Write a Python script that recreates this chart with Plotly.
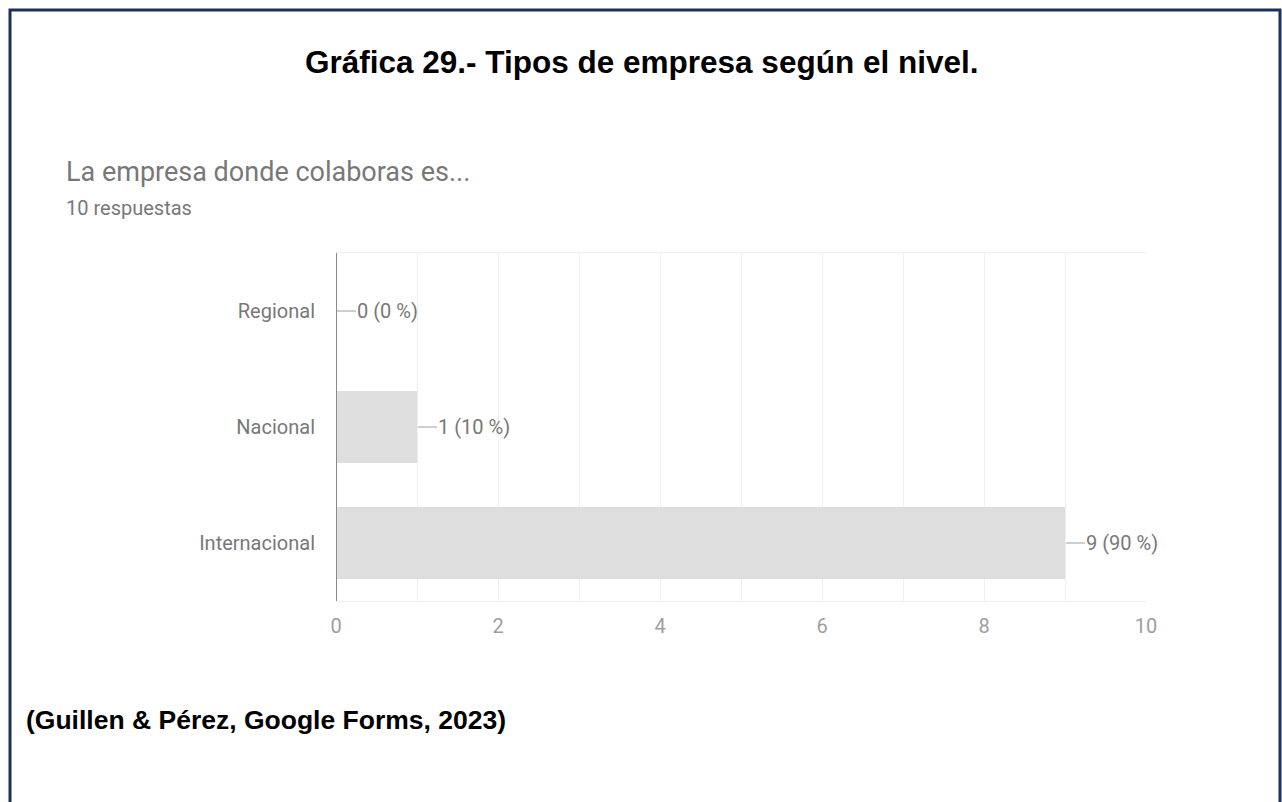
import plotly.graph_objects as go

# Survey answers: "La empresa donde colaboras es..."
categorias = ["Regional", "Nacional", "Internacional"]
respuestas = [0, 1, 9]
total_respuestas = 10
ticks_x = [0, 2, 4, 6, 8, 10]

W, H = 1282, 802
L, R, T, B = 336, 136, 253, 201
PW, PH = W - L - R, H - T - B


def px(x):
    """Convert a page x pixel to paper coordinates."""
    return (x - L) / PW


def py(y):
    """Convert a page y pixel (from top) to paper coordinates."""
    return 1 - (y - T) / PH


GRAY_TXT = "#787878"
GRAY_TICK = "#9e9e9e"
GRID = "#efefef"
NAVY = "#1d3159"

fig = go.Figure(
    go.Bar(
        x=respuestas,
        y=categorias,
        orientation="h",
        width=0.62,
        marker=dict(color="#dedede", line=dict(width=0)),
        hoverinfo="skip",
    )
)

shapes = []
annotations = []

# Value labels with a short leader line
for cat, v in zip(categorias, respuestas):
    pct = round(100 * v / total_respuestas)
    shapes.append(dict(
        type="line", xref="x", yref="y", xsizemode="pixel", xanchor=v,
        x0=1, x1=20, y0=cat, y1=cat,
        line=dict(color="#9e9e9e", width=1), layer="above",
    ))
    annotations.append(dict(
        x=v, y=cat, xref="x", yref="y", text=f"{v} ({pct} %)",
        showarrow=False, xanchor="left", yanchor="middle", xshift=19,
        font=dict(family="Roboto", size=20, color=GRAY_TXT),
    ))

# Axis line at zero
shapes.append(dict(
    type="line", xref="x", yref="paper", x0=0, x1=0, y0=0, y1=1,
    line=dict(color="#8a8a8a", width=2), layer="above",
))

# Frame around the page (top, left, right)
shapes.append(dict(
    type="path", xref="paper", yref="paper",
    path=f"M {px(10)} {py(830)} L {px(10)} {py(10)} L {px(1280)} {py(10)} L {px(1280)} {py(830)}",
    line=dict(color=NAVY, width=3),
))

annotations += [
    dict(
        x=px(641), y=py(62), xref="paper", yref="paper",
        text="<b>Gráfica 29.- Tipos de empresa según el nivel.</b>",
        showarrow=False, xanchor="center", yanchor="middle",
        font=dict(family="Liberation Sans, Arial", size=31.5, color="#000000"),
    ),
    dict(
        x=px(64), y=py(172), xref="paper", yref="paper",
        text="La empresa donde colaboras es...",
        showarrow=False, xanchor="left", yanchor="middle",
        font=dict(family="Roboto", size=27, color=GRAY_TXT),
    ),
    dict(
        x=px(64), y=py(208), xref="paper", yref="paper",
        text=f"{total_respuestas} respuestas",
        showarrow=False, xanchor="left", yanchor="middle",
        font=dict(family="Roboto", size=20, color=GRAY_TXT),
    ),
    dict(
        x=px(24), y=py(720), xref="paper", yref="paper",
        text="<b>(Guillen & Pérez, Google Forms, 2023)</b>",
        showarrow=False, xanchor="left", yanchor="middle",
        font=dict(family="Liberation Sans, Arial", size=26.5, color="#000000"),
    ),
]

fig.update_layout(
    width=W, height=H,
    margin=dict(l=L, r=R, t=T, b=B, pad=0),
    paper_bgcolor="white", plot_bgcolor="white",
    showlegend=False,
    shapes=shapes,
    annotations=annotations,
    bargap=0.38,
    xaxis=dict(
        range=[0, 10], tickvals=ticks_x, ticktext=[str(t) for t in ticks_x],
        showgrid=True, gridcolor=GRID, gridwidth=1,
        minor=dict(dtick=1, showgrid=True, gridcolor=GRID, gridwidth=1),
        zeroline=False, showline=True, mirror=True, linecolor=GRID, linewidth=1,
        ticks="", ticklabelstandoff=7,
        tickfont=dict(family="Roboto", size=20, color=GRAY_TICK),
        fixedrange=True,
    ),
    yaxis=dict(
        categoryorder="array", categoryarray=categorias, autorange="reversed",
        showgrid=False, zeroline=False, showline=False, ticks="",
        ticklabelstandoff=20,
        tickfont=dict(family="Roboto", size=20, color=GRAY_TXT),
        fixedrange=True,
    ),
)

fig.write_html("out.html", config={"displayModeBar": False})
